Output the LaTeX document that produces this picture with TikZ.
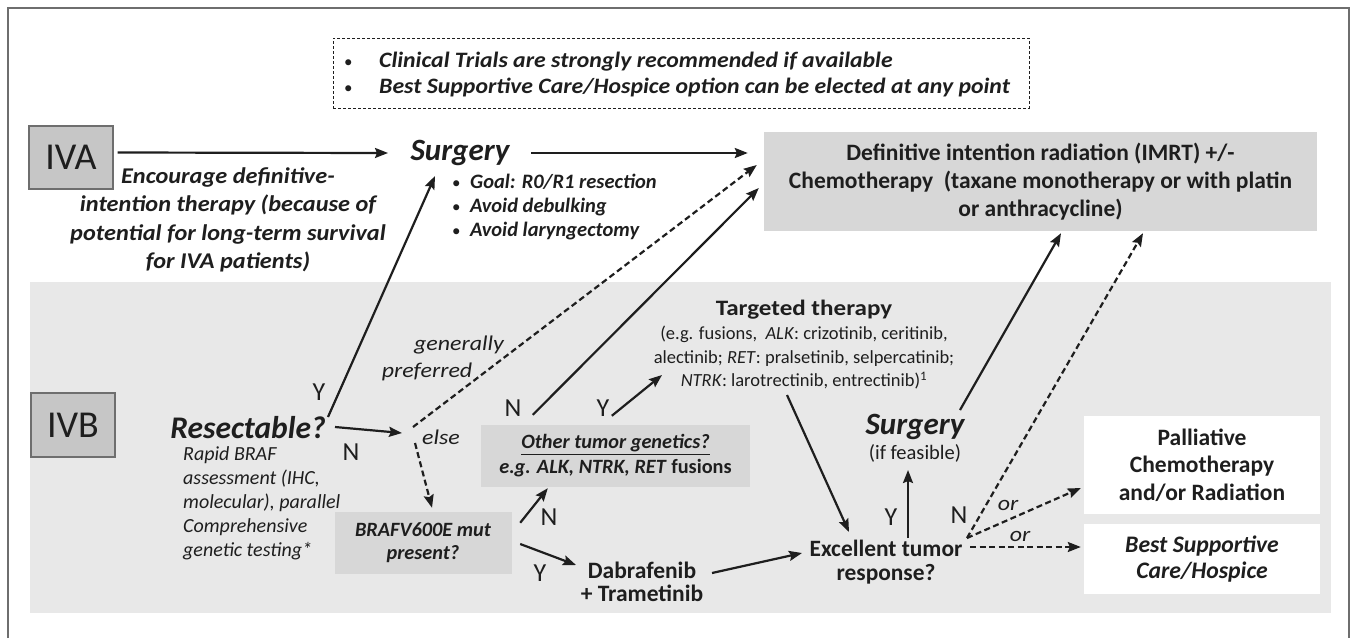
\documentclass[tikz,border=0pt]{standalone}
\usepackage{fontspec}
\setmainfont{Carlito}
\newfontfamily\wideA{Carlito}[FakeStretch=1.08]
\newfontfamily\wideB{Carlito}[FakeStretch=1.14]
\usetikzlibrary{arrows.meta,calc}
\definecolor{bandgray}{HTML}{E8E8E8}
\definecolor{boxgray}{HTML}{D7D7D7}
\definecolor{ivgray}{HTML}{C6C6C6}
\definecolor{ink}{HTML}{1E1E1E}
\definecolor{framegray}{HTML}{6E6E6E}
\newcommand{\fs}[2]{\fontsize{#1}{#2}\selectfont}
\newcommand{\smbul}{{\normalfont\fs{17}{17}\textbullet}}
\begin{document}
\begin{tikzpicture}[x=1pt,y=-1pt,
  every node/.style={text=ink, inner sep=0pt},
  arr/.style={-{Stealth[length=13pt,width=10pt,inset=2pt]}, line width=2.2pt, draw=ink},
  darr/.style={arr, dash pattern=on 6pt off 3.5pt},
  ivbox/.style={draw=framegray, line width=1.4pt, fill=ivgray, font=\fs{38}{42}},
  greybox/.style={fill=boxgray},
  whitebox/.style={fill=white},
  lbl/.style={font=\fs{26}{28}},
  bigbi/.style={font=\fs{31}{34}\bfseries\itshape},
  smallit/.style={font=\wideB\fs{21}{24}\itshape}
]
\useasboundingbox (0,0) rectangle (1351,638);
% outer frame
\draw[framegray, line width=1.2pt] (8,638) -- (8,8) -- (1349,8) -- (1349,638);
% lower band
\fill[bandgray] (30,282) rectangle (1331,613);

% notes box
\node[draw=ink, line width=1pt, dash pattern=on 3pt off 2pt, minimum width=696, minimum height=70] (notes) at (681,73) {};
\node[anchor=west, align=left, font=\wideA\fs{22}{26}\bfseries\itshape] (notestxt) at (344,75)
  {\makebox[35pt][l]{\smbul}Clinical Trials are strongly recommended if available\\
   \makebox[35pt][l]{\smbul}Best Supportive Care/Hospice option can be elected at any point};

% IVA row
\node[ivbox, minimum width=84, minimum height=63] (iva) at (71,157.5) {IVA};
\node[bigbi] (surg) at (460,153) {Surgery};
\node[anchor=north west, align=left, font=\fs{20.5}{24}\bfseries\itshape] (surgnotes) at (452,174)
  {\makebox[18pt][l]{\smbul}Goal: R0/R1 resection\\
   \makebox[18pt][l]{\smbul}Avoid debulking\\
   \makebox[18pt][l]{\smbul}Avoid laryngectomy};
\node[align=center, font=\wideA\fs{22.5}{28.5}\bfseries\itshape] (enc) at (228,220)
  {Encourage definitive-\\intention therapy (because of\\potential for long-term survival\\for IVA patients)};
\node[greybox, minimum width=553, minimum height=99, align=center, font=\fs{23.5}{28}\bfseries] (def) at (1040.5,181.5)
  {Definitive intention radiation (IMRT) +/-\\Chemotherapy\ \ (taxane monotherapy or with platin\\or anthracycline)};

% IVB row
\node[ivbox, minimum width=84, minimum height=64] (ivb) at (73,425) {IVB};
\node[font=\fs{31.5}{33}\bfseries\itshape] (res) at (248,428) {Resectable?};
\node[anchor=north west, align=left, font=\fs{20}{24}\itshape] (resnotes) at (183,446)
  {Rapid BRAF\\assessment (IHC,\\molecular), parallel\\Comprehensive\\genetic testing*};
\node[lbl] (resY) at (319,392) {Y};
\node[lbl] (resN) at (351,452) {N};
\coordinate (elsept) at (411,431);
\node[smallit] (gen1) at (459,345) {generally};
\node[smallit] (gen2) at (427,372) {preferred};
\node[smallit] (elselbl) at (441,437) {else};

\node[greybox, minimum width=177, minimum height=62, align=center, font=\fs{20.3}{23}\bfseries\itshape] (braf) at (423,543)
  {BRAFV600E mut\\present?};
\node[greybox, minimum width=269, minimum height=62, align=center, font=\fs{20.3}{25}\bfseries] (other) at (615.5,456)
  {\textit{\underline{Other tumor genetics?}}\\\textit{e.g. ALK, NTRK, RET} fusions};
\node[lbl] (othN) at (513,408) {N};
\node[lbl] (othY) at (603,408) {Y};
\node[lbl] (brafN) at (549,517) {N};
\node[lbl] (brafY) at (540,573) {Y};
\node[align=center, font=\fs{23.5}{23}\bfseries] (dab) at (642,582) {Dabrafenib\\+ Trametinib};

\node[font=\wideB\fs{22}{24}\bfseries] (targ) at (804,310) {Targeted therapy};
\node[align=center, font=\fs{18.5}{23.5}] (tdet) at (804,358)
  {(e.g. fusions,\ \ \textit{ALK}: crizotinib, ceritinib,\\alectinib; \textit{RET}: pralsetinib, selpercatinib;\\\textit{NTRK}: larotrectinib, entrectinib)\textsuperscript{1}};

\node[font=\fs{23.4}{24}\bfseries, align=center] (exc) at (886,562) {Excellent tumor\\response?};
\node[bigbi] (surg2) at (915,427) {Surgery};
\node[font=\fs{20.5}{22}] (feas) at (915,453) {(if feasible)};
\node[lbl] (excY) at (891,517) {Y};
\node[lbl] (excN) at (959,515) {N};
\coordinate (npt) at (967,538);
\node[smallit] (or1) at (1008,505) {or};
\node[smallit] (or2) at (1020,536) {or};

\node[whitebox, minimum width=236, minimum height=98, align=center, font=\fs{23.5}{27.5}\bfseries] (pall) at (1202,465)
  {Palliative\\Chemotherapy\\and/or Radiation};
\node[whitebox, minimum width=236, minimum height=70, align=center, font=\fs{23.7}{26}\bfseries\itshape] (bsc) at (1202,559)
  {Best Supportive\\Care/Hospice};

% connectors
\draw[arr] ($(iva.east)+(4,-5)$) -- ($(surg.center)+(-72,0)$);
\draw[arr] ($(surg.center)+(71,0)$) -- ($(def.west)+(-16,-28.5)$);
\draw[arr] ($(res.center)+(80,-11)$) -- ($(surg.center)+(-25,23)$);
\draw[arr] ($(res.center)+(87,-1)$) -- ($(elsept)+(-9,2)$);
\draw[darr] ($(elsept)+(2,-4)$) -- ($(def.west)+(-7,-16.5)$);
\draw[darr] ($(elsept)+(4,12)$) -- ($(braf.north)+(9,-4)$);
\draw[arr] ($(braf.north east)+(8.5,11)$) -- ($(other.south west)+(67,1)$);
\draw[arr] ($(braf.east)+(8.5,1)$) -- ($(dab.center)+(-66,-17)$);
\draw[arr] ($(other.north west)+(52,-10)$) -- ($(def.west)+(-5,6.5)$);
\draw[arr] ($(other.north west)+(131,-9)$) -- ($(tdet.center)+(-142,17)$);
\draw[arr] ($(tdet.center)+(-17,37)$) -- ($(exc.center)+(-37,-30)$);
\draw[arr] ($(dab.center)+(70,-9)$) -- ($(exc.center)+(-84,-9)$);
\draw[arr] ($(exc.center)+(22,-24)$) -- ($(feas.center)+(-7,17)$);
\draw[arr] ($(surg2.center)+(45,-17)$) -- ($(def.south)+(20.5,2)$);
\draw[darr] (npt) -- ($(def.south)+(102.5,2)$);
\draw[darr] (npt) -- ($(pall.west)+(-3,23)$);
\draw[darr] ($(npt)+(3,9)$) -- ($(bsc.west)+(-3,-12)$);
\end{tikzpicture}
\end{document}
